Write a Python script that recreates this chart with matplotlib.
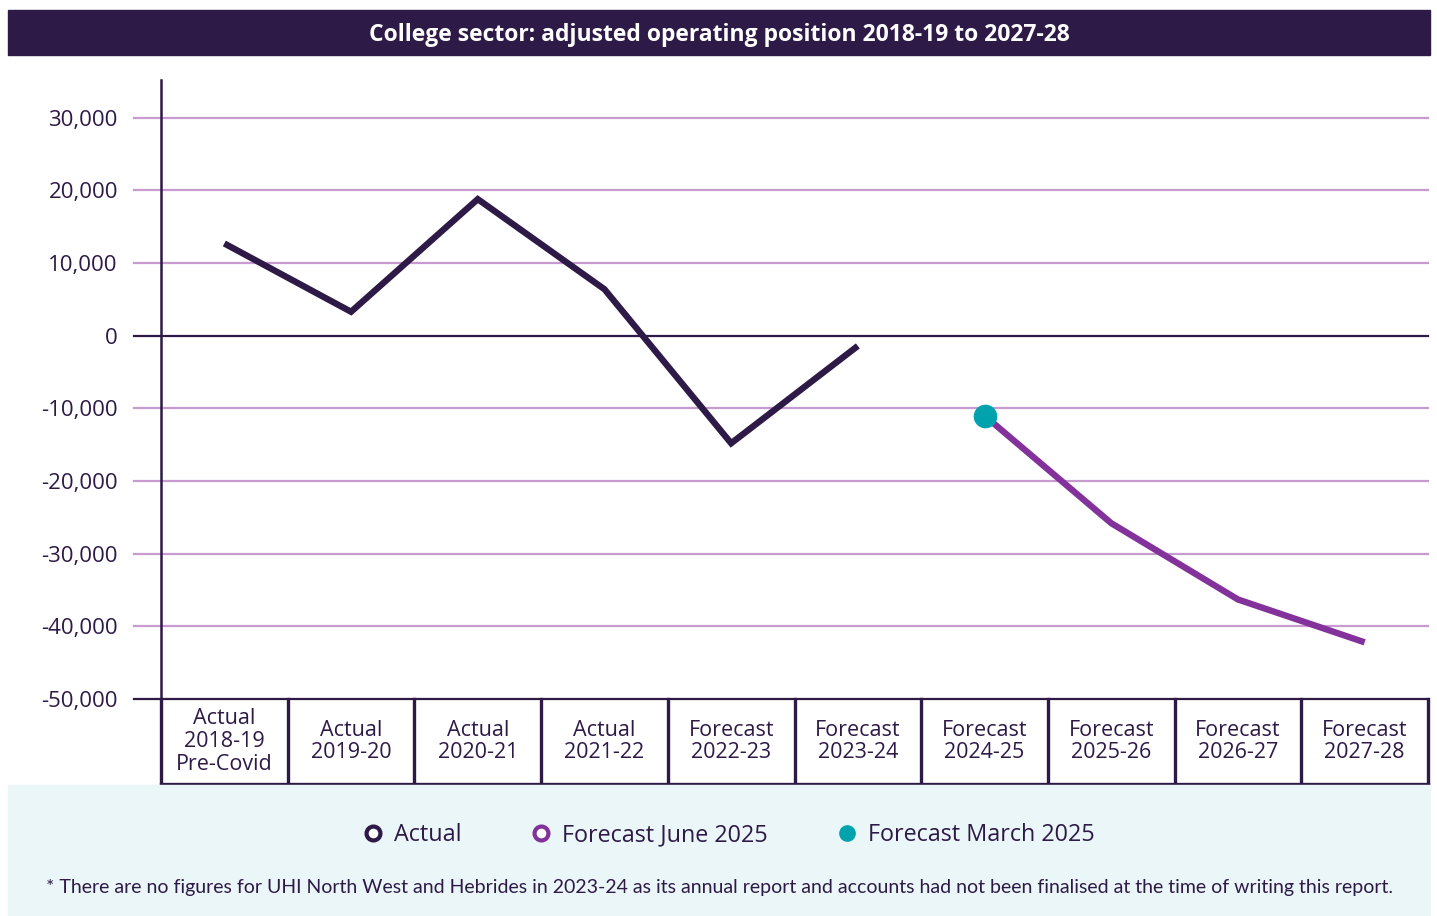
import matplotlib
matplotlib.use("Agg")
import matplotlib.pyplot as plt
from matplotlib.patches import Rectangle
from matplotlib.lines import Line2D

# data
years = ["Actual\n2018-19\nPre-Covid", "Actual\n2019-20", "Actual\n2020-21", "Actual\n2021-22",
         "Forecast\n2022-23", "Forecast\n2023-24", "Forecast\n2024-25", "Forecast\n2025-26",
         "Forecast\n2026-27", "Forecast\n2027-28"]
actual = [12700, 3300, 18800, 6400, -14800, -1400]
forecast_june = [-11000, -25800, -36300, -42200]
forecast_march = [-11000]
yticks = [30000, 20000, 10000, 0, -10000, -20000, -30000, -40000, -50000]

DARK = "#2E1A47"
PURPLE = "#84329B"
TEAL = "#00A3AD"
GRID = "#C79AD0"
CYAN = "#EAF6F7"

plt.rcParams['font.family'] = ['Open Sans', 'DejaVu Sans']

W, H = 1437, 916
fig = plt.figure(figsize=(W / 100, H / 100), dpi=100)


def fx(px):
    return px / W


def fy(py):
    return 1 - py / H


# title bar and legend background
fig.patches.append(Rectangle((fx(8), fy(55)), fx(1430) - fx(8), 45 / H,
                             transform=fig.transFigure, color=DARK, zorder=0))
fig.patches.append(Rectangle((fx(8), 0), fx(1430) - fx(8), fy(785),
                             transform=fig.transFigure, color=CYAN, zorder=0))
fig.text(fx(719), fy(35), "College sector: adjusted operating position 2018-19 to 2027-28",
         color="white", fontsize=16.5, fontweight="bold", ha="center", va="center")

# main axes
ax = fig.add_axes([fx(161), fy(699), fx(1428) - fx(161), (699 - 80) / H])
ax.set_xlim(-0.5, 9.5)
ax.set_ylim(-50000, 35200)
ax.patch.set_alpha(0)

for v in yticks:
    if v == 0 or v == -50000:
        col = DARK
    else:
        col = GRID
    ax.axhline(v, xmin=-0.021, xmax=1, color=col, lw=1.6, clip_on=False, zorder=1)
    ax.text(-0.5 - 0.34, v, f"{v:,}", ha="right", va="center_baseline", fontsize=16, color=DARK)

ax.set_xticks([])
ax.set_yticks([])
for s in ["top", "right", "bottom"]:
    ax.spines[s].set_visible(False)
ax.spines["left"].set_color(DARK)
ax.spines["left"].set_linewidth(1.8)

xs = list(range(len(years)))
ax.plot(xs[:len(actual)], actual, color=DARK, lw=4.6, solid_joinstyle="miter",
        solid_capstyle="butt", zorder=3)
ax.plot(xs[6:6 + len(forecast_june)], forecast_june, color=PURPLE, lw=4.6,
        solid_joinstyle="miter", solid_capstyle="butt", zorder=3)
ax.plot(xs[6:7], forecast_march, "o", color=TEAL, ms=16, zorder=4)

# category table under the axis
tax = fig.add_axes([fx(161), fy(784), fx(1428) - fx(161), (784 - 699) / H])
tax.set_xlim(-0.5, 9.5)
tax.set_ylim(0, 1)
tax.axis("off")
for i in range(len(years) + 1):
    tax.plot([i - 0.5, i - 0.5], [0, 1], color=DARK, lw=2.4, clip_on=False)
tax.plot([-0.5, 9.5], [0, 0], color=DARK, lw=2.4, clip_on=False)
for i, lab in enumerate(years):
    tax.text(i, 0.5, lab, ha="center", va="center", fontsize=15.5, color=DARK, linespacing=1.1)

# legend
handles = [
    Line2D([], [], ls="none", marker="o", ms=10, mfc="white", mec=DARK, mew=3),
    Line2D([], [], ls="none", marker="o", ms=10, mfc="white", mec=PURPLE, mew=3),
    Line2D([], [], ls="none", marker="o", ms=11, mfc=TEAL, mec=TEAL),
]
fig.legend(handles, ["Actual", "Forecast June 2025", "Forecast March 2025"],
           loc="center", bbox_to_anchor=(fx(729), fy(835)), ncol=3, frameon=False,
           fontsize=16.8, handlelength=0.8, handletextpad=0.5, columnspacing=3.0,
           labelcolor=DARK)

fig.text(fx(719), fy(887),
         "* There are no figures for UHI North West and Hebrides in 2023-24 as its annual report "
         "and accounts had not been finalised at the time of writing this report.",
         ha="center", va="center", fontsize=14, color=DARK, family=["Lato", "DejaVu Sans"])

fig.savefig("out.png", dpi=100)
